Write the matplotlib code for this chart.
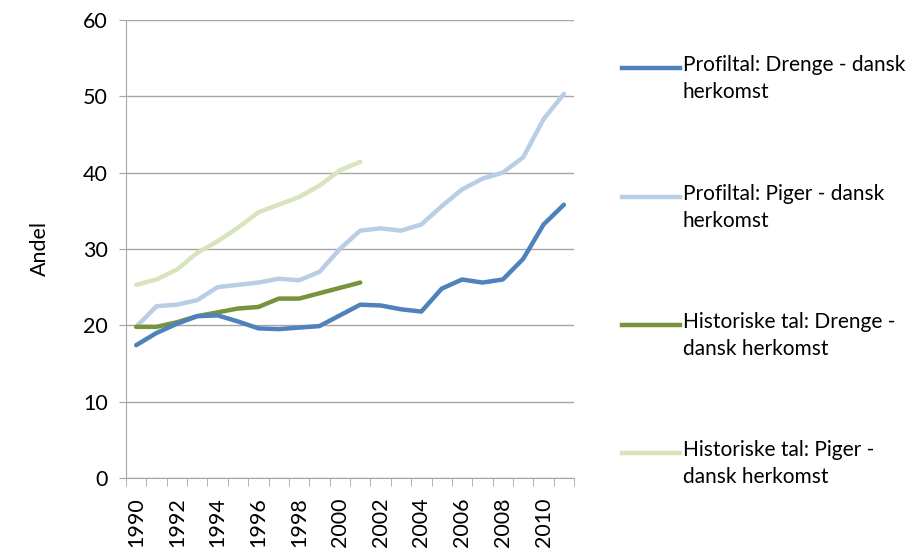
import numpy as np
import matplotlib
matplotlib.use("Agg")
import matplotlib.pyplot as plt
from matplotlib.lines import Line2D

plt.rcParams['font.family'] = ['Lato', 'DejaVu Sans']

years = list(range(1990, 2012))

# Profiltal
drenge_profil = [17.4, 19.0, 20.2, 21.2, 21.3, 20.5, 19.6, 19.5, 19.7, 19.9, 21.3,
                 22.7, 22.6, 22.1, 21.8, 24.8, 26.0, 25.6, 26.0, 28.7, 33.2, 35.8]
piger_profil = [19.8, 22.5, 22.7, 23.3, 25.0, 25.3, 25.6, 26.1, 25.9, 27.0, 30.0,
                32.4, 32.7, 32.4, 33.2, 35.6, 37.8, 39.2, 40.0, 42.0, 47.0, 50.3]

# Historiske tal (1990-2001)
drenge_hist = [19.8, 19.8, 20.4, 21.2, 21.7, 22.2, 22.4, 23.5, 23.5, 24.2, 24.9, 25.6]
piger_hist = [25.3, 26.0, 27.3, 29.5, 31.0, 32.8, 34.8, 35.8, 36.8, 38.3, 40.3, 41.4]

labels = ["Profiltal: Drenge - dansk\nherkomst",
          "Profiltal: Piger - dansk\nherkomst",
          "Historiske tal: Drenge -\ndansk herkomst",
          "Historiske tal: Piger -\ndansk herkomst"]
colors = ['#4F81BD', '#B9CDE5', '#77933C', '#D7E4BD']

fig = plt.figure(figsize=(9.23, 5.52), dpi=100)
ax = fig.add_axes([0.1365, 0.134, 0.4855, 0.830])

x = np.arange(len(years))
series = [drenge_profil, piger_profil, drenge_hist, piger_hist]
# draw order: light ones behind
for i in [3, 1, 2, 0]:
    s = series[i]
    ax.plot(x[:len(s)], s, color=colors[i], lw=3.2, solid_capstyle='round',
            solid_joinstyle='round', zorder=3)

ax.set_xlim(-0.5, len(years) - 0.5)
ax.set_ylim(0, 60)
ax.set_yticks(range(0, 61, 10))
ax.grid(axis='y', color='#A6A6A6', lw=1, zorder=0)
ax.set_axisbelow(True)

ax.set_xticks(x[::2])
ax.set_xticklabels([str(y) for y in years[::2]], rotation=90, fontsize=15.5)
ax.set_xticks(np.arange(-0.5, len(years), 1), minor=True)
ax.tick_params(axis='x', which='major', length=0, pad=14)
ax.tick_params(axis='x', which='minor', length=6, color='#A6A6A6', direction='out')
ax.tick_params(axis='y', length=5, color='#A6A6A6', labelsize=15.5, pad=8)

for side in ['top', 'right']:
    ax.spines[side].set_visible(False)
for side in ['left', 'bottom']:
    ax.spines[side].set_color('#A6A6A6')

ax.set_ylabel("Andel", fontsize=15.5, labelpad=24)

# legend drawn by hand to mimic the spreadsheet layout
leg_y = [68, 197, 325, 453]
for lab, c, yy in zip(labels, colors, leg_y):
    fy = 1 - yy / 552
    fig.add_artist(Line2D([622 / 923, 680 / 923], [fy, fy], color=c, lw=3.2,
                          transform=fig.transFigure))
    fig.text(683 / 923, fy + 13 / 552, lab, fontsize=15, va='top', ha='left',
             linespacing=1.45)

fig.savefig("out.png", dpi=100)
